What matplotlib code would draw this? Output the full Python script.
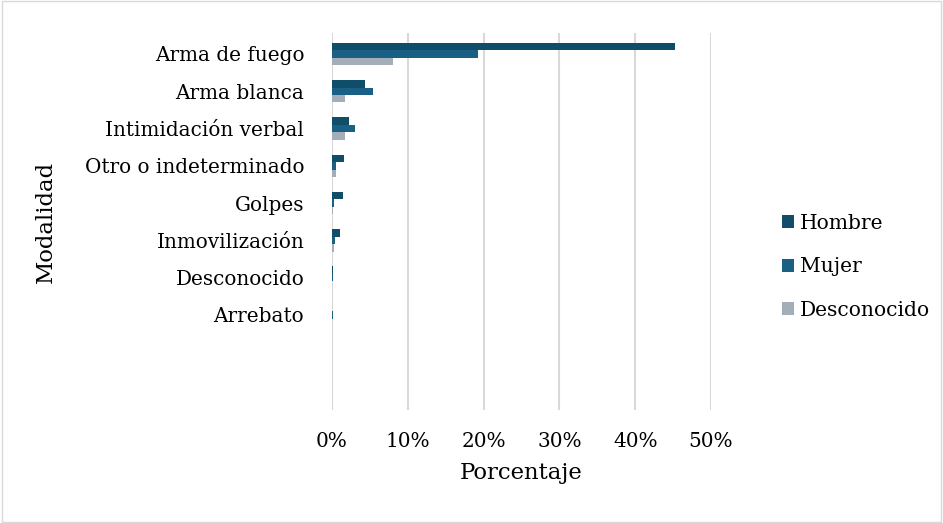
import numpy as np
import matplotlib.pyplot as plt
from matplotlib.patches import Rectangle

modalidades = ["Arma de fuego", "Arma blanca", "Intimidación verbal",
               "Otro o indeterminado", "Golpes", "Inmovilización",
               "Desconocido", "Arrebato", "", ""]
hombre = [45.3, 4.3, 2.3, 1.6, 1.4, 1.1, 0.1, 0.05, 0, 0]
mujer = [19.2, 5.4, 3.1, 0.5, 0.3, 0.4, 0.1, 0.1, 0, 0]
desconocido = [8.0, 1.7, 1.7, 0.5, 0.2, 0.25, 0.0, 0.0, 0, 0]
xticks = [0, 10, 20, 30, 40, 50]

plt.rcParams["font.family"] = ["DejaVu Serif"]

fig = plt.figure(figsize=(9.43, 5.23), dpi=100)
ax = fig.add_axes([0.352, 0.216, 0.402, 0.72])

y = np.arange(len(modalidades))
h = 0.2
ax.barh(y - h, hombre, height=h, color="#0f4d69", label="Hombre")
ax.barh(y, mujer, height=h, color="#1a6085", label="Mujer")
ax.barh(y + h, desconocido, height=h, color="#a3aeb9", label="Desconocido")

ax.set_ylim(len(modalidades) - 0.45, -0.55)
ax.set_xlim(0, 50)
ax.set_yticks(y)
ax.set_yticklabels(modalidades, fontsize=14.4)
ax.set_xticks(xticks)
ax.set_xticklabels([f"{t}%" for t in xticks], fontsize=14.4)
ax.tick_params(axis="y", length=0, pad=20)
ax.tick_params(axis="x", length=0, pad=16)
ax.grid(axis="x", color="#d9d9d9", linewidth=1.5)
ax.set_axisbelow(True)
for s in ax.spines.values():
    s.set_visible(False)

ax.set_xlabel("Porcentaje", fontsize=16.4, labelpad=8)
fig.text(0.049, 0.575, "Modalidad", rotation=90, fontsize=16.4,
         ha="center", va="center")

fig.legend(loc="center left", bbox_to_anchor=(0.81, 0.49), frameon=False,
           fontsize=14.6, labelspacing=1.2, handlelength=0.6, handleheight=0.6,
           handletextpad=0.3)

fig.patches.append(Rectangle((0.002, 0.002), 0.996, 0.996, transform=fig.transFigure,
                             fill=False, edgecolor="#d9d9d9", linewidth=1))

fig.savefig("out.png", dpi=100)
